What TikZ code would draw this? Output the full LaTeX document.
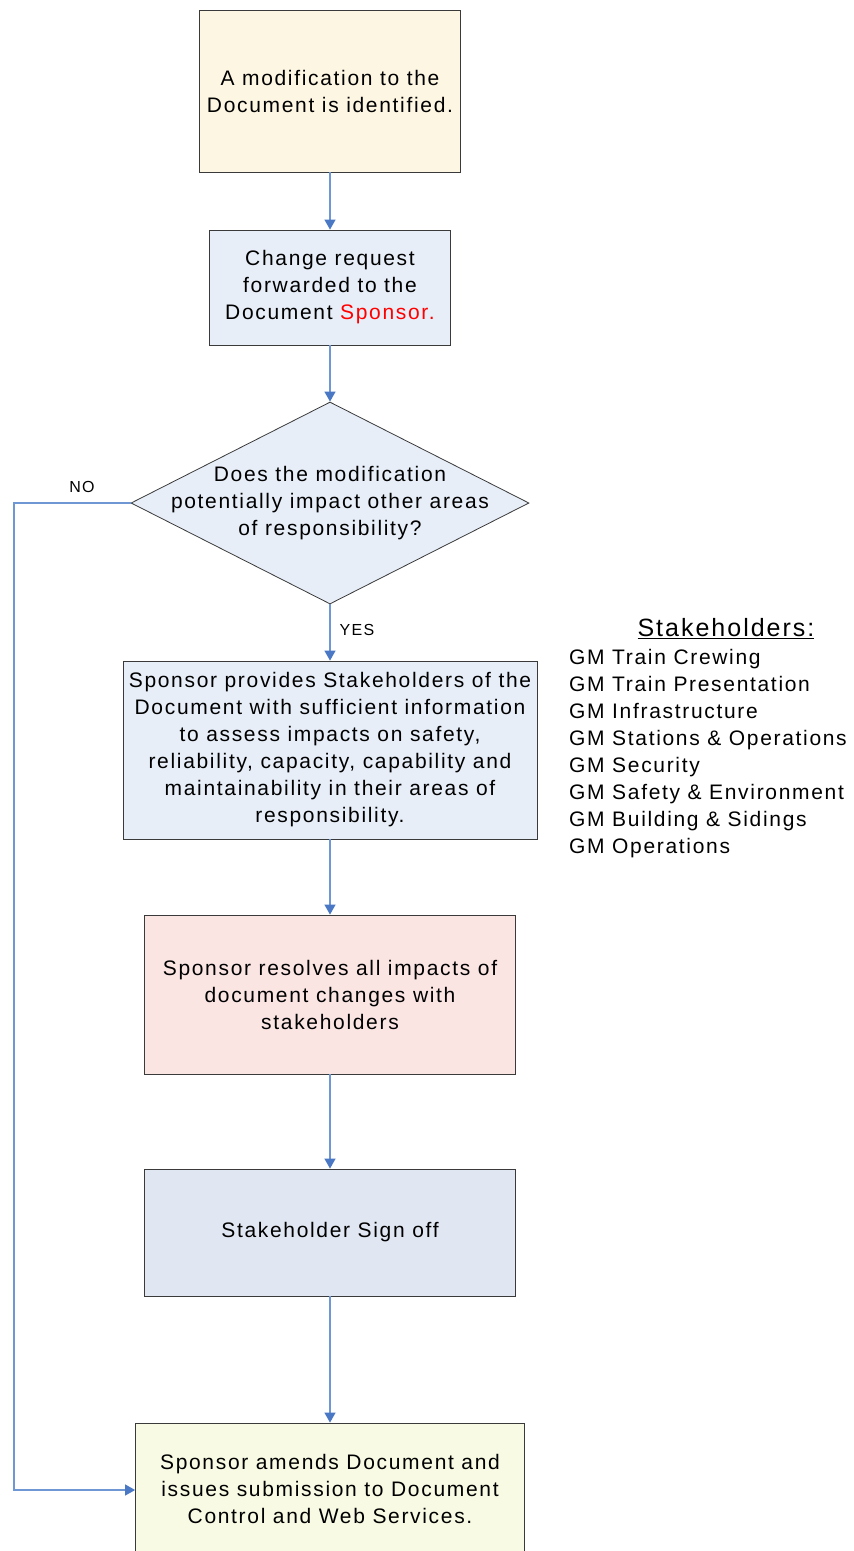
\documentclass[tikz,border=0pt]{standalone}
\usepackage{fontspec}
\setmainfont[LetterSpace=8]{Liberation Sans}
\usetikzlibrary{arrows.meta,shapes.geometric}
\definecolor{cream}{HTML}{FDF6E2}
\definecolor{lblue}{HTML}{E7EEF8}
\definecolor{pink}{HTML}{FAE5E3}
\definecolor{sblue}{HTML}{E1E7F2}
\definecolor{lyel}{HTML}{F8FAE3}
\definecolor{conn}{HTML}{6E97D3}
\definecolor{tipc}{HTML}{4A78C4}
\definecolor{bord}{HTML}{3A3A3A}
\definecolor{sred}{HTML}{FF0000}
\tikzset{
  txt/.style={font=\fontsize{21}{27}\selectfont},
  box/.style={draw=bord, line width=0.8pt, align=center, inner sep=0pt, txt},
  arr/.style={draw=conn, line width=1.2pt, -{Triangle[length=10pt,width=11pt,color=tipc]}},
  lbl/.style={font=\fontsize{16}{18}\selectfont, inner sep=0pt},
}
\begin{document}
\begin{tikzpicture}[x=1pt,y=-1pt]
\useasboundingbox (0,0) rectangle (854,1551);
\clip (0,0) rectangle (854,1551);
\node[box, fill=cream, minimum width=261pt, minimum height=162pt] (a) at (330,91) {A modification to the\\Document is identified.};
\node[box, fill=lblue, minimum width=241pt, minimum height=115pt] (b) at (330,287.5) {Change request\\forwarded to the\\Document \textcolor{sred}{Sponsor.}};
\node[box, fill=lblue, diamond, aspect=1.97, minimum width=398pt, minimum height=202pt] (c) at (330,503) {};
\node[txt, align=center] at (330,503) {Does the modification\\potentially impact other areas\\of responsibility?};
\node[box, fill=lblue, minimum width=414pt, minimum height=178pt] (d) at (330,750) {Sponsor provides Stakeholders of the\\Document with sufficient information\\to assess impacts on safety,\\reliability, capacity, capability and\\maintainability in their areas of\\responsibility.};
\node[box, fill=pink, minimum width=371pt, minimum height=159pt] (e) at (330,994.5) {Sponsor resolves all impacts of\\document changes with\\stakeholders};
\node[box, fill=sblue, minimum width=371pt, minimum height=127pt] (f) at (330,1232.5) {Stakeholder Sign off};
\node[box, fill=lyel, minimum width=389pt, minimum height=180pt] (g) at (330,1513) {};
\node[txt, align=center] at (330,1489) {Sponsor amends Document and\\issues submission to Document\\Control and Web Services.};
\coordinate (n1) at (14,503);
\coordinate (n2) at (14,1490);
\draw[arr] (a.south) -- (b.north);
\draw[arr] (b.south) -- (c.north);
\draw[arr] (c.south) -- (d.north);
\draw[arr] (d.south) -- (e.north);
\draw[arr] (e.south) -- (f.north);
\draw[arr] (f.south) -- (g.north);
\draw[arr] (c.west) -- (n1) -- (n2) -- (n2 -| g.west);
\node[lbl] (no) at (82,487) {NO};
\node[lbl] (yes) at (357,630) {YES};
\node[font=\fontsize{25}{27}\selectfont, inner sep=0pt] (st) at (726,629) {\underline{Stakeholders:}};
\node[txt, align=left, anchor=north west, inner sep=0pt] (list) at (569,649) {GM Train Crewing\\GM Train Presentation\\GM Infrastructure\\GM Stations \& Operations\\GM Security\\GM Safety \& Environment\\GM Building \& Sidings\\GM Operations};
\end{tikzpicture}
\end{document}
